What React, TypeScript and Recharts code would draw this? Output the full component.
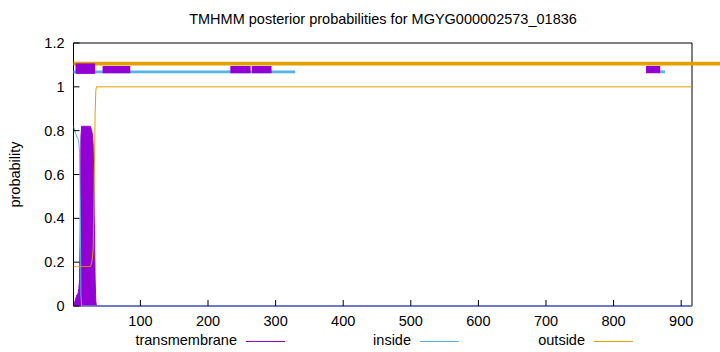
import React from 'react'
import { ComposedChart, Area, Line, XAxis, YAxis, ReferenceArea } from 'recharts'

// residue positions (sparse after the signal region, values are flat there)
const positions = [
  1, 2, 3, 4, 5, 6, 7, 8, 9, 10, 11, 12, 13, 14, 15, 16, 17, 18, 19, 20,
  21, 22, 23, 24, 25, 26, 27, 28, 29, 30, 31, 32, 33, 34, 35, 916,
]
const transmembrane = [
  0, 0.01, 0.02, 0.03, 0.04, 0.05, 0.05, 0.06, 0.08, 0.12, 0.37, 0.77, 0.82, 0.82, 0.82, 0.82, 0.82, 0.82, 0.82, 0.82,
  0.82, 0.82, 0.82, 0.82, 0.82, 0.82, 0.81, 0.8, 0.78, 0.74, 0.6, 0.35, 0.12, 0.02, 0, 0,
]
const inside = [
  0.82, 0.81, 0.8, 0.79, 0.78, 0.77, 0.77, 0.76, 0.74, 0.7, 0.45, 0.05, 0, 0, 0, 0, 0, 0, 0, 0,
  0, 0, 0, 0, 0, 0, 0, 0, 0, 0, 0, 0, 0, 0, 0, 0,
]
const outside = [
  0.18, 0.18, 0.18, 0.18, 0.18, 0.18, 0.18, 0.18, 0.18, 0.18, 0.18, 0.18, 0.18, 0.18, 0.18, 0.18, 0.18, 0.18, 0.18, 0.18,
  0.18, 0.18, 0.18, 0.18, 0.18, 0.18, 0.19, 0.2, 0.22, 0.26, 0.4, 0.65, 0.88, 0.98, 1, 1,
]

// predicted topology segments drawn above the curves
const outsideSegments = [[1, 960]]
const insideSegments = [[1, 329], [869, 876]]
const tmSegments = [[4, 33], [44, 85], [233, 263], [265, 294], [848, 869]]

const xTicks = [100, 200, 300, 400, 500, 600, 700, 800, 900]
const yTicks = [0, 0.2, 0.4, 0.6, 0.8, 1, 1.2]

const TITLE = 'TMHMM posterior probabilities for MGYG000002573_01836'
const FONT = '"Liberation Sans", Arial, sans-serif'
const FS = 14.5

const PURPLE = '#9400d3'
const BLUE = '#56b4e9'
const ORANGE = '#e69f00'

const data = positions.map((p, i) => ({
  pos: p,
  tm: transmembrane[i],
  inside: inside[i],
  outside: outside[i],
}))

const XTick = (props: any) => {
  const { x, y, payload } = props
  const axisY = y - 10
  return (
    <g>
      <line x1={x} x2={x} y1={axisY} y2={axisY - 6} stroke="#000" />
      <text x={x} y={y} dy="0.71em" textAnchor="middle" fontSize={FS} fontFamily={FONT} fill="#000">
        {payload.value}
      </text>
    </g>
  )
}

const YTick = (props: any) => {
  const { x, y, payload } = props
  const axisX = x + 9
  return (
    <g>
      <line x1={axisX} x2={axisX + 6} y1={y} y2={y} stroke="#000" />
      <text x={x} y={y} dy="0.35em" textAnchor="end" fontSize={FS} fontFamily={FONT} fill="#000">
        {payload.value}
      </text>
    </g>
  )
}

const legendItems = [
  { name: 'transmembrane', color: PURPLE, right: 237 },
  { name: 'inside', color: BLUE, right: 411 },
  { name: 'outside', color: ORANGE, right: 585 },
]

export default function App() {
  return (
    <div style={{ position: 'absolute', left: 0, top: 0, width: 720, height: 352, background: '#fff', fontFamily: FONT }}>
      <div style={{ position: 'absolute', left: 73, width: 620, top: 11, textAlign: 'center', fontSize: FS }}>{TITLE}</div>
      <ComposedChart width={720} height={352} data={data} margin={{ top: 43, right: 28, bottom: 16, left: 0 }}>
        <XAxis
          dataKey="pos"
          type="number"
          domain={[1, 916]}
          ticks={xTicks}
          allowDataOverflow
          height={30}
          axisLine={false}
          tickLine={false}
          tickSize={6}
          tickMargin={4}
          tick={<XTick />}
        />
        <YAxis
          type="number"
          domain={[0, 1.2]}
          ticks={yTicks}
          width={73.5}
          axisLine={false}
          tickLine={false}
          tickSize={6}
          tickMargin={3}
          tick={<YTick />}
          label={{ value: 'probability', angle: -90, position: 'insideLeft', offset: 15, style: { textAnchor: 'middle', fontSize: FS, fontFamily: FONT, fill: '#000' } }}
        />
        <ReferenceArea x1={1} x2={916} y1={0} y2={1.2} fill="none" stroke="#000" strokeWidth={1} />
        <Area dataKey="tm" type="linear" stroke={PURPLE} fill={PURPLE} fillOpacity={1} isAnimationActive={false} dot={false} />
        <Line dataKey="inside" type="linear" stroke={BLUE} strokeWidth={1} dot={false} isAnimationActive={false} />
        <Line dataKey="outside" type="linear" stroke={ORANGE} strokeWidth={1} dot={false} isAnimationActive={false} />
        {outsideSegments.map(([a, b], i) => (
          <ReferenceArea key={'o' + i} x1={a} x2={b} y1={1.097} y2={1.115} fill={ORANGE} fillOpacity={1} ifOverflow="visible" />
        ))}
        {insideSegments.map(([a, b], i) => (
          <ReferenceArea key={'i' + i} x1={a} x2={b} y1={1.062} y2={1.075} fill={BLUE} fillOpacity={1} ifOverflow="visible" />
        ))}
        {tmSegments.map(([a, b], i) => (
          <ReferenceArea key={'t' + i} x1={a} x2={b} y1={i === 0 ? 1.059 : 1.062} y2={i === 0 ? 1.107 : 1.095} fill={PURPLE} fillOpacity={1} ifOverflow="visible" />
        ))}
      </ComposedChart>
      {legendItems.map((it) => (
        <div key={it.name} style={{ position: 'absolute', top: 332, left: it.right - 200, width: 249, height: 18, fontSize: FS }}>
          <span style={{ position: 'absolute', left: 0, width: 200, textAlign: 'right', top: 0, whiteSpace: 'nowrap' }}>{it.name}</span>
          <span style={{ position: 'absolute', left: 209, width: 39, top: 9, height: 1, background: it.color }} />
        </div>
      ))}
    </div>
  )
}
